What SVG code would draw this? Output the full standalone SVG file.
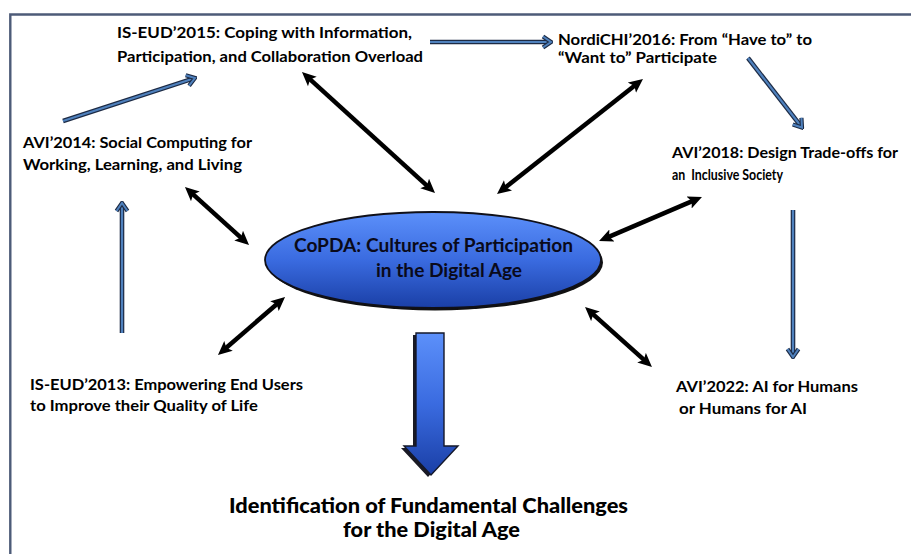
<svg xmlns="http://www.w3.org/2000/svg" width="911" height="554" viewBox="0 0 911 554">
  <style>
    .lbl { font-family: Lato, "Liberation Sans", Arial, sans-serif; font-weight: bold; font-size: 15px; fill: #000; }
    .core { font-family: Lato, "Liberation Sans", Arial, sans-serif; font-weight: bold; font-size: 18px; fill: #0a0a1a; }
    .title { font-family: Lato, "Liberation Sans", Arial, sans-serif; font-weight: 900; font-size: 21px; fill: #000; }
    .frame { stroke: #4d5b78; stroke-width: 2.4; fill: none; }
    .dbl { stroke: #000; stroke-width: 4.5; fill: none; marker-start: url(#blackHead); marker-end: url(#blackHead); }
    .flowUnder { stroke: #1c2a44; stroke-width: 4.6; fill: none; }
    .flow { stroke: #4f81bd; stroke-width: 2.2; fill: none; marker-end: url(#blueHead); }
  </style>
  <defs>
    <linearGradient id="blueFill" x1="0" y1="0" x2="0" y2="1">
      <stop offset="0" stop-color="#5c90fa"/>
      <stop offset="0.5" stop-color="#3a6be0"/>
      <stop offset="1" stop-color="#1a3fa6"/>
    </linearGradient>
    <marker id="blackHead" markerUnits="userSpaceOnUse" viewBox="0 -7 14 14" refX="6" refY="0" markerWidth="14" markerHeight="14" orient="auto-start-reverse">
      <path d="M0,-6.5 L14,0 L0,6.5 L3,0 z" fill="#000"/>
    </marker>
    <marker id="blueHead" markerUnits="userSpaceOnUse" viewBox="-12 -8 14 16" refX="0" refY="0" markerWidth="14" markerHeight="16" orient="auto">
      <path d="M-8,-5.5 L0,0 L-8,5.5" fill="none" stroke="#1c2a44" stroke-width="4.2" stroke-linejoin="miter"/>
      <path d="M-8,-5.5 L0,0 L-8,5.5" fill="none" stroke="#4f81bd" stroke-width="2" stroke-linejoin="miter"/>
    </marker>
  </defs>

  <rect width="911" height="554" fill="#fff"/>

  <!-- outer frame (top and left edges) -->
  <path class="frame" d="M10.3,554 V14.5 H911"/>

  <!-- connectors -->
  <g id="connectors">
    <!-- two-way links between the core topic and each event -->
    <line class="dbl" x1="307.9" y1="77.4" x2="429.1" y2="187.6"/>
    <line class="dbl" x1="636.7" y1="84.0" x2="503.3" y2="189.1"/>
    <line class="dbl" x1="694.6" y1="200.1" x2="606.4" y2="237.9"/>
    <line class="dbl" x1="591.0" y1="312.3" x2="646.0" y2="361.7"/>
    <line class="dbl" x1="190.9" y1="192.4" x2="243.1" y2="239.6"/>
    <line class="dbl" x1="279.0" y1="302.2" x2="224.0" y2="349.8"/>

    <!-- chronological sequence of events -->
    <line class="flowUnder" x1="122" y1="333" x2="122" y2="205"/>
    <line class="flow" x1="122" y1="333" x2="122" y2="203"/>

    <line class="flowUnder" x1="63" y1="121" x2="193" y2="78.6"/>
    <line class="flow" x1="63" y1="121" x2="195" y2="78"/>

    <line class="flowUnder" x1="430" y1="42" x2="549" y2="42"/>
    <line class="flow" x1="430" y1="42" x2="551" y2="42"/>

    <line class="flowUnder" x1="748" y1="58" x2="800.5" y2="125.7"/>
    <line class="flow" x1="748" y1="58" x2="802" y2="127.5"/>

    <line class="flowUnder" x1="793" y1="210" x2="793" y2="355"/>
    <line class="flow" x1="793" y1="210" x2="793" y2="357"/>

    <!-- outcome arrow -->
    <polygon points="413,335 441,335 441,448 455,448 428,477 401,448 413,448" fill="#1a1a24"/>
    <polygon points="416,333 444,333 444,446 458,446 431,475 404,446 416,446" fill="url(#blueFill)" stroke="#14182a" stroke-width="1.4" stroke-linejoin="miter"/>
  </g>

  <!-- core topic -->
  <g id="node-copda">
    <ellipse cx="435" cy="262.5" rx="168" ry="48" fill="#111"/>
    <ellipse cx="433" cy="260" rx="168" ry="48" fill="url(#blueFill)" stroke="#101018" stroke-width="1.8"/>
    <text class="core" x="294" y="252" textLength="279" lengthAdjust="spacingAndGlyphs">CoPDA: Cultures of Participation</text>
    <text class="core" x="376" y="277" textLength="146" lengthAdjust="spacingAndGlyphs">in the Digital Age</text>
  </g>

  <g id="node-isEud2015">
    <text class="lbl" x="117" y="37.5" textLength="295" lengthAdjust="spacingAndGlyphs">IS-EUD’2015: Coping with Information,</text>
    <text class="lbl" x="117" y="62" textLength="306" lengthAdjust="spacingAndGlyphs">Participation, and Collaboration Overload</text>
  </g>

  <g id="node-nordichi2016">
    <text class="lbl" x="558" y="45" textLength="254" lengthAdjust="spacingAndGlyphs">NordiCHI’2016: From “Have to” to</text>
    <text class="lbl" x="558" y="62.5" textLength="159" lengthAdjust="spacingAndGlyphs">“Want to” Participate</text>
  </g>

  <g id="node-avi2018">
    <text class="lbl" x="672" y="158" textLength="226" lengthAdjust="spacingAndGlyphs">AVI’2018: Design Trade-offs for</text>
    <text class="lbl" x="672" y="180" textLength="111" lengthAdjust="spacingAndGlyphs" xml:space="preserve">an  Inclusive Society</text>
  </g>

  <g id="node-avi2014">
    <text class="lbl" x="23" y="148" textLength="229" lengthAdjust="spacingAndGlyphs">AVI’2014: Social Computing for</text>
    <text class="lbl" x="23" y="170" textLength="219" lengthAdjust="spacingAndGlyphs">Working, Learning, and Living</text>
  </g>

  <g id="node-isEud2013">
    <text class="lbl" x="30" y="390" textLength="273" lengthAdjust="spacingAndGlyphs">IS-EUD’2013: Empowering End Users</text>
    <text class="lbl" x="30" y="411" textLength="228" lengthAdjust="spacingAndGlyphs">to Improve their Quality of Life</text>
  </g>

  <g id="node-avi2022">
    <text class="lbl" x="676" y="392" textLength="182" lengthAdjust="spacingAndGlyphs">AVI’2022: AI for Humans</text>
    <text class="lbl" x="679" y="414" textLength="128" lengthAdjust="spacingAndGlyphs">or Humans for AI</text>
  </g>

  <g id="node-challenges">
    <text class="title" x="229" y="513" textLength="399" lengthAdjust="spacingAndGlyphs">Identification of Fundamental Challenges</text>
    <text class="title" x="343" y="537" textLength="177" lengthAdjust="spacingAndGlyphs">for the Digital Age</text>
  </g>
</svg>
